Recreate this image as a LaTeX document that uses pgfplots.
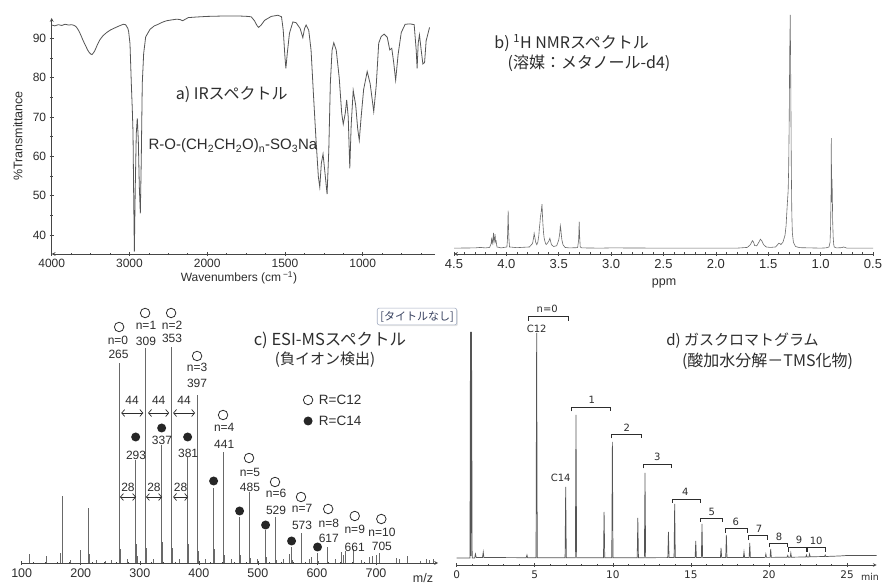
\documentclass[border=0pt]{standalone}
\usepackage{pgfplots}
\pgfplotsset{compat=1.18}
\usepackage{fontspec}
\setmainfont{Liberation Sans}
\newfontfamily\cjk{Noto Sans CJK JP}
\newfontfamily\dvs{DejaVu Sans}
\usetikzlibrary{arrows.meta,shadows}
\definecolor{axc}{RGB}{70,70,70}
\definecolor{txc}{RGB}{45,45,45}
\definecolor{lnc}{RGB}{85,85,85}
\definecolor{stc}{RGB}{105,105,105}
\definecolor{boxc}{RGB}{165,175,195}
\definecolor{boxt}{RGB}{55,65,95}
\newcommand{\fs}[1]{\fontsize{#1bp}{#1bp}\selectfont}
\pgfplotsset{
  /pgf/number format/assume math mode=true,
  myax/.style={scale only axis, anchor=south west,
    axis line style={-, axc, line width=0.7bp},
    tick style={axc, line width=0.6bp},
    tick align=outside, major tick length=4bp, minor tick length=2.5bp,
    tick label style={text=txc, font=\fs{12}}},
}
\tikzset{
  oc/.style={circle, draw=txc, line width=0.8bp, minimum size=9.5bp, inner sep=0pt},
  fc/.style={circle, fill=black!85, minimum size=9bp, inner sep=0pt},
  lb/.style={font=\fs{12}, text=txc, inner sep=0pt},
  gl/.style={font=\dvs\fs{10}, text=txc, inner sep=0pt},
  dar/.style={{Straight Barb[length=3bp,width=7bp]}-{Straight Barb[length=3bp,width=7bp]}, txc, line width=0.7bp},
}
\begin{document}
\begin{tikzpicture}[x=1bp,y=1bp]
\path[use as bounding box] (0,0) rectangle (888,586);
\fill[white] (0,0) rectangle (888,586);

% ---------------- a) IR ----------------
\begin{axis}[myax, at={(51.7bp,332bp)}, width=383.3bp, height=236bp,
  axis x line=bottom, axis y line=left, clip=false,
  x dir=reverse, xmin=-930, xmax=4000, ymin=35.2, ymax=95.2,
  x filter/.expression={x<2000 ? 2*x-2000 : x},
  xtick={4000,3000,2000,1000,0}, xticklabels={4000,3000,2000,1500,1000},
  minor xtick={-750,-500,...,3750},
  ytick={40,50,60,70,80,90}, minor y tick num=1]
\addplot[lnc, line width=0.8bp, no marks] table {
4000 93.4
3960 93.2
3915 93.5
3870 93.3
3829 93.6
3780 93.4
3743 93.5
3710 93.3
3687 93.0
3665 92.4
3645 91.7
3620 90.6
3601 89.7
3580 88.8
3558 87.9
3536 87.0
3516 86.4
3495 86.0
3482 85.9
3460 86.4
3443 87.0
3410 88.5
3379 89.7
3340 90.7
3293 91.5
3240 92.2
3186 92.7
3130 93.2
3079 93.6
3050 93.5
3036 93.1
3020 92.5
3010 91.7
2993 88.7
2976 78.6
2963 71.8
2954 66
2945 49.1
2937 35.8
2925 52.3
2912 65.9
2899 69.7
2886 64.2
2873 52.3
2860 45.5
2848 59.1
2835 78.6
2817 86.2
2791 90.4
2736 92.3
2680 93.2
2629 93.6
2580 94.1
2521 94.5
2460 94.7
2392 94.9
2350 94.8
2315 94.5
2280 94.9
2243 95.3
2170 95.4
2093 95.5
2000 95.6
1899 95.7
1792 95.7
1740 95.6
1717 95.5
1696 94.5
1680 93.3
1670 92.8
1653 93.4
1631 94.6
1588 95.6
1545 95.9
1522 95.5
1511 92.1
1500 85.3
1494 82.4
1485 86.2
1471 91.3
1449 94.2
1428 94.0
1402 92.5
1385 90.2
1374 92.5
1364 93.4
1347 92.1
1332 87.0
1317 76.0
1300 64.1
1285 54.8
1276 52.2
1266 58.2
1255 60.6
1242 55.6
1229 50.4
1218 61.6
1208 78.6
1197 87.0
1186 88.9
1170 87.0
1151 80
1135 71
1125 68.2
1112 71
1103 74.4
1093 70
1083 57.0
1074 68
1061 76.8
1045 73
1032 67
1022 64.1
1010 70
994 77
971 81.6
952 78.5
929 71.4
913 78
897 88.8
881 90.5
862 91.1
842 90.3
826 87.1
813 87.5
801 84
788 79.4
772 86
752 91.5
727 93.6
695 93.7
669 93.5
656 87.1
650 82.4
643 88.8
635 90.9
624 87.1
613 83.5
602 83.9
592 89.4
570 92.8
};
\end{axis}
\node[font=\cjk\fs{16}, text=txc] at (231.7,491) {a) IRスペクトル};
\node[font=\fs{15}, text=txc] at (233,440) {R-O-(CH\textsubscript{2}CH\textsubscript{2}O)\textsubscript{n}-SO\textsubscript{3}Na};
\node[font=\fs{12}, text=txc] at (239,308) {Wavenumbers (cm\,\textsuperscript{−1})};
\node[font=\fs{12.5}, text=txc, rotate=90] at (18,450) {\%Transmittance};

% ---------------- b) NMR ----------------
\begin{axis}[myax, at={(454bp,332bp)}, width=419bp, height=239bp,
  axis x line=bottom, axis y line=none,
  x dir=reverse, xmin=0.5, xmax=4.5, ymin=-2, ymax=100,
  xtick={0.5,1.0,1.5,2.0,2.5,3.0,3.5,4.0,4.5},
  xticklabels={0.5,1.0,1.5,2.0,2.5,3.0,3.5,4.0,4.5},
  minor x tick num=4, major tick length=3.5bp, minor tick length=3bp,
  tick label style={font=\fs{13}}]
\addplot[stc, line width=0.6bp, no marks] table {
4.50 0.5
4.30 0.6
4.25 0.8
4.20 0.6
4.16 0.8
4.145 2.5
4.14 5.0
4.135 2.5
4.128 4
4.123 7.0
4.118 3
4.112 4.5
4.108 6.5
4.103 3
4.098 3.5
4.09 1
4.05 0.6
3.995 1
3.99 4
3.987 9
3.983 16.5
3.979 8
3.975 4
3.97 1
3.90 0.7
3.78 1.0
3.75 2.5
3.74 5
3.735 6.8
3.728 5
3.72 3
3.71 2
3.70 3
3.69 6
3.685 9
3.68 11
3.675 14
3.67 15
3.665 17
3.66 19.3
3.655 14
3.65 10
3.645 7
3.64 5
3.63 3
3.62 2
3.61 2.5
3.595 3.5
3.585 4.7
3.578 3.5
3.57 2
3.55 1.2
3.52 1.5
3.50 4
3.49 7
3.485 10
3.48 8.5
3.475 6
3.47 4
3.46 2
3.44 0.8
3.40 0.6
3.32 0.7
3.31 4
3.305 11.8
3.30 5
3.295 1
3.28 0.6
3.10 0.5
3.00 0.6
2.50 0.5
2.00 0.5
1.80 0.5
1.70 0.8
1.67 2
1.66 3
1.65 3.7
1.64 3
1.63 1.6
1.61 1.5
1.59 3
1.575 4.3
1.56 3.5
1.545 2
1.52 1
1.48 0.8
1.43 1
1.41 2
1.40 2.6
1.39 2.5
1.38 2.0
1.36 3
1.34 6
1.33 10
1.32 18
1.31 25
1.305 35
1.30 55
1.295 85
1.29 100
1.285 70
1.28 35
1.275 15
1.27 7
1.26 3
1.24 1.2
1.20 0.7
1.10 0.6
1.00 0.5
0.95 0.6
0.92 1
0.91 3
0.905 10
0.90 25
0.898 47.4
0.895 20
0.892 30
0.889 25
0.885 12
0.88 5
0.875 2
0.87 1
0.85 0.6
0.80 0.7
0.78 1
0.75 0.5
0.50 0.5
};
\end{axis}
\node[font=\cjk\fs{16}, text=txc] at (571.7,542.7) {b) \textsuperscript{1}H NMRスペクトル};
\node[font=\cjk\fs{16}, text=txc] at (589,522.7) {(溶媒：メタノール-d4)};
\node[font=\fs{12.5}, text=txc] at (664,303) {ppm};

% ---------------- c) ESI-MS ----------------
\begin{axis}[myax, at={(21.7bp,23bp)}, width=416.3bp, height=250bp,
  axis x line=bottom, axis y line=none, clip=false,
  xmin=100, xmax=805, ymin=0, ymax=250,
  xtick={100,200,...,700}, minor x tick num=4, tick label style={font=\fs{12.5}}]
\addplot[ycomb, stc, line width=0.7bp, no marks] table {
113 9
141 7
166 10
168 67
169 12
183 3
200 13
213 55
214 9
227 3
241 2
251 3
265 200
266 36
267 14
279 4
293 103
294 19
295 7
309 215
310 39
311 15
323 4
337 118
338 21
339 8
353 216
354 39
355 15
367 4
381 106
382 19
383 7
397 168
398 30
399 12
411 4
425 75
426 14
427 5
441 111
442 20
443 8
455 4
469 46
470 8
471 3
485 71
486 13
487 5
499 4
513 33
514 6
529 46
530 8
531 3
543 4
553 9
557 16
558 3
573 30
574 5
587 4
590 6
601 10
602 2
617 16
618 3
631 4
641 11
645 8
648 12
661 14
662 3
675 3
689 6
693 7
700 8
705 10
735 5
739 4
753 7
775 2
786 4
791 3
797 4
};
% open circles (R=C12)
\node[oc] at (axis cs:265,236) {};
\node[oc] at (axis cs:309,250) {};
\node[oc] at (axis cs:353,250) {};
\node[oc] at (axis cs:397,207) {};
\node[oc] at (axis cs:441,148) {};
\node[oc] at (axis cs:485,105) {};
\node[oc] at (axis cs:529,81) {};
\node[oc] at (axis cs:573,66) {};
\node[oc] at (axis cs:619,54) {};
\node[oc] at (axis cs:664,47) {};
\node[oc] at (axis cs:709,44) {};
\node[lb] at (axis cs:263,223) {n=0};
\node[lb] at (axis cs:264,209) {265};
\node[lb] at (axis cs:310.5,238) {n=1};
\node[lb] at (axis cs:310.5,222) {309};
\node[lb] at (axis cs:354.6,238) {n=2};
\node[lb] at (axis cs:354.6,225) {353};
\node[lb] at (axis cs:397,196) {n=3};
\node[lb] at (axis cs:397,180) {397};
\node[lb] at (axis cs:443,136) {n=4};
\node[lb] at (axis cs:443,119) {441};
\node[lb] at (axis cs:486.6,91) {n=5};
\node[lb] at (axis cs:486.6,76) {485};
\node[lb] at (axis cs:530.7,70) {n=6};
\node[lb] at (axis cs:530.7,53) {529};
\node[lb] at (axis cs:574.7,55) {n=7};
\node[lb] at (axis cs:574.7,38) {573};
\node[lb] at (axis cs:620,40) {n=8};
\node[lb] at (axis cs:620,25) {617};
\node[lb] at (axis cs:664,34) {n=9};
\node[lb] at (axis cs:664,16) {661};
\node[lb] at (axis cs:710,31) {n=10};
\node[lb] at (axis cs:710,17) {705};
% filled circles (R=C14)
\node[fc] at (axis cs:293,126) {};
\node[fc] at (axis cs:337,135) {};
\node[fc] at (axis cs:381,126) {};
\node[fc] at (axis cs:425,82) {};
\node[fc] at (axis cs:469,52) {};
\node[fc] at (axis cs:513,38) {};
\node[fc] at (axis cs:557,22) {};
\node[fc] at (axis cs:601,16) {};
\node[lb] at (axis cs:293.6,108) {293};
\node[lb] at (axis cs:337.6,123) {337};
\node[lb] at (axis cs:381.8,110) {381};
% spacing arrows
\draw[dar] (axis cs:268.6,150) -- (axis cs:305.9,150);
\draw[dar] (axis cs:314,150) -- (axis cs:349.7,150);
\draw[dar] (axis cs:356.4,150) -- (axis cs:393.6,150);
\node[lb] at (axis cs:287,163) {44};
\node[lb] at (axis cs:332,163) {44};
\node[lb] at (axis cs:375,163) {44};
\draw[dar] (axis cs:266.5,66) -- (axis cs:293.6,66);
\draw[dar] (axis cs:310.5,66) -- (axis cs:337.6,66);
\draw[dar] (axis cs:356.4,66) -- (axis cs:381.8,66);
\node[lb] at (axis cs:280,76) {28};
\node[lb] at (axis cs:324,76) {28};
\node[lb] at (axis cs:369,76) {28};
% legend
\node[oc] at (axis cs:585,163) {};
\node[fc] at (axis cs:585,142) {};
\node[lb, font=\fs{13.5}, anchor=west] at (axis cs:603,163) {R=C12};
\node[lb, font=\fs{13.5}, anchor=west] at (axis cs:603,142) {R=C14};
\end{axis}
\node[font=\cjk\fs{16.5}, text=txc] at (330,246) {c) ESI-MSスペクトル};
\node[font=\cjk\fs{15}, text=txc] at (325,226) {(負イオン検出)};
\node[font=\fs{12.5}, text=txc] at (423,8) {m/z};

% ---------------- d) GC ----------------
\begin{axis}[myax, at={(456.7bp,21bp)}, width=420bp, height=233bp,
  axis x line=bottom, axis y line=none, clip=false,
  xmin=0, xmax=26.9, ymin=-7, ymax=226,
  xtick={0,5,10,15,20,25}, minor x tick num=4,
  tick label style={font=\dvs\fs{10.5}}]
\addplot[lnc, line width=0.7bp, no marks] table {
0 0
0.85 0
0.88 226
0.91 2
0.95 226
0.99 0
1.15 0
1.2 4
1.25 0.5
1.65 0.5
1.7 6
1.74 0.5
4.45 0.3
4.5 3
4.54 0.3
5.08 0.3
5.12 225
5.16 0.3
6.94 0.3
6.98 71
7.02 0.3
7.60 0.3
7.64 143
7.68 0.3
9.40 0.3
9.44 46
9.48 0.3
9.93 0.3
9.97 116
10.01 0.3
11.56 0.3
11.60 40
11.64 0.3
12.02 0.3
12.06 85
12.10 0.3
13.52 0.4
13.56 26
13.60 0.4
13.92 0.4
13.96 54
14.00 0.4
15.27 0.4
15.31 17
15.35 0.4
15.67 0.4
15.71 34
15.75 0.4
16.89 0.5
16.93 10
16.97 0.5
17.23 0.5
17.27 23
17.31 0.5
18.36 0.5
18.40 6
18.44 0.5
18.73 0.5
18.77 15
18.81 0.5
19.76 0.6
19.80 4
19.84 0.6
20.07 0.6
20.11 9
20.15 0.6
21.16 0.8
21.20 2.5
21.24 0.8
21.36 0.8
21.40 5
21.44 0.8
22.36 1
22.40 3
22.44 1
22.56 1
22.60 4
22.64 1.2
23.56 1.5
23.60 3
23.64 1.5
24.5 2
25.0 2.5
26.9 2.5
};
% brackets
\draw[txc, line width=0.8bp] (axis cs:4.59,237.3) -- (axis cs:4.59,241.3) -- (axis cs:7.15,241.3) -- (axis cs:7.15,237.3);
\node[gl] at (axis cs:5.80,248.7) {n=0};
\node[gl] at (axis cs:5.12,229.5) {C12};
\node[gl] at (axis cs:6.66,79.7) {C14};
\draw[txc, line width=0.8bp] (axis cs:7.37,146.7) -- (axis cs:7.37,150.7) -- (axis cs:9.82,150.7) -- (axis cs:9.82,146.7);
\node[gl] at (axis cs:8.65,158) {1};
\draw[txc, line width=0.8bp] (axis cs:9.93,119.7) -- (axis cs:9.93,123.7) -- (axis cs:11.81,123.7) -- (axis cs:11.81,119.7);
\node[gl] at (axis cs:10.89,130.3) {2};
\draw[txc, line width=0.8bp] (axis cs:11.95,89.7) -- (axis cs:11.95,93.7) -- (axis cs:13.73,93.7) -- (axis cs:13.73,89.7);
\node[gl] at (axis cs:12.85,100.7) {3};
\draw[txc, line width=0.8bp] (axis cs:13.81,55) -- (axis cs:13.81,59) -- (axis cs:15.59,59) -- (axis cs:15.59,55);
\node[gl] at (axis cs:14.64,66.3) {4};
\draw[txc, line width=0.8bp] (axis cs:15.63,36) -- (axis cs:15.63,40) -- (axis cs:17.01,40) -- (axis cs:17.01,36);
\node[gl] at (axis cs:16.34,46.3) {5};
\draw[txc, line width=0.8bp] (axis cs:17.23,25.3) -- (axis cs:17.23,29.3) -- (axis cs:18.62,29.3) -- (axis cs:18.62,25.3);
\node[gl] at (axis cs:17.87,36.3) {6};
\draw[txc, line width=0.8bp] (axis cs:18.68,18.3) -- (axis cs:18.68,22.3) -- (axis cs:19.90,22.3) -- (axis cs:19.90,18.3);
\node[gl] at (axis cs:19.37,28.7) {7};
\draw[txc, line width=0.8bp] (axis cs:20.03,10.7) -- (axis cs:20.03,14.7) -- (axis cs:21.20,14.7) -- (axis cs:21.20,10.7);
\node[gl] at (axis cs:20.65,20.7) {8};
\draw[txc, line width=0.8bp] (axis cs:21.24,6.3) -- (axis cs:21.24,10.3) -- (axis cs:22.42,10.3) -- (axis cs:22.42,6.3);
\node[gl] at (axis cs:21.93,18) {9};
\draw[txc, line width=0.8bp] (axis cs:22.46,6.3) -- (axis cs:22.46,10.3) -- (axis cs:23.64,10.3) -- (axis cs:23.64,6.3);
\node[gl] at (axis cs:23.02,17.3) {10};
\end{axis}
\node[font=\cjk\fs{15}, text=txc] at (742.5,245) {d) ガスクロマトグラム};
\node[font=\cjk\fs{16}, text=txc] at (767.5,224.3) {(酸加水分解－TMS化物)};
\node[font=\dvs\fs{9.5}, text=txc] at (870,9) {min};

% untitled box
\node[draw=boxc, rounded corners=2bp, fill=white, inner sep=3bp, line width=0.6bp,
  drop shadow={opacity=0.2, shadow xshift=1.2bp, shadow yshift=-1.2bp},
  font=\cjk\fs{11}, text=boxt] at (417,269.5) {[タイトルなし]};
\end{tikzpicture}
\end{document}
